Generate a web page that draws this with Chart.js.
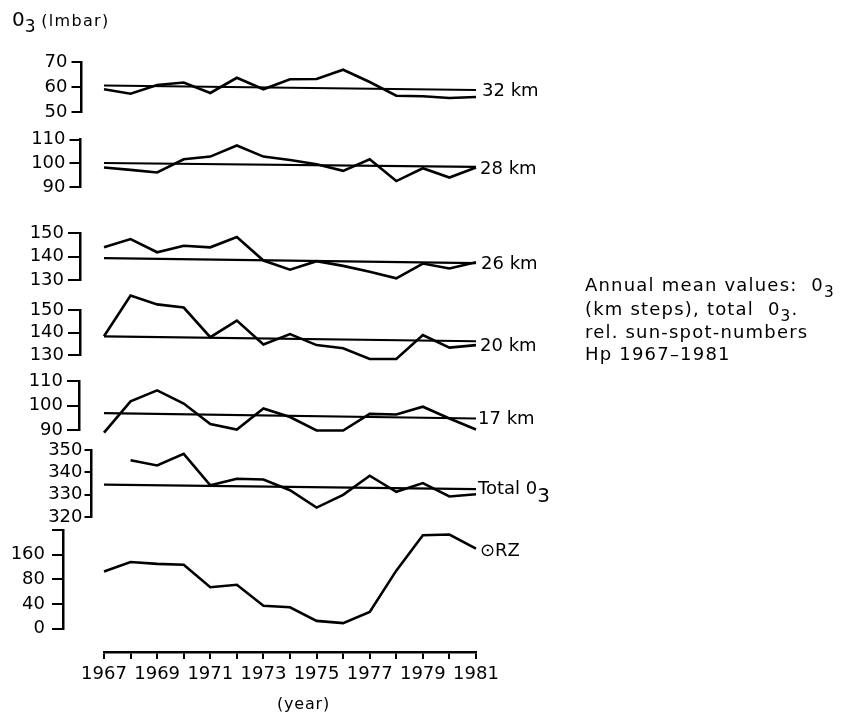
<!DOCTYPE html>
<html><head><meta charset="utf-8">
<script src="https://cdn.jsdelivr.net/npm/chart.js@4.4.1/dist/chart.umd.min.js"></script>
<style>
html,body{margin:0;padding:0;background:#fff;}
#wrap{position:relative;width:849px;height:718px;overflow:hidden;background:#fff;font-family:"DejaVu Sans",sans-serif;color:#000;}
#c{position:absolute;left:0;top:0;}
.lbl{position:absolute;font-size:18px;line-height:22px;white-space:nowrap;}
.sub{font-size:0.85em;position:relative;top:0.38em;}
#note{position:absolute;left:585px;top:274px;font-size:18px;line-height:21.7px;letter-spacing:1.2px;white-space:nowrap;}
</style></head>
<body><div id="wrap"><canvas id="c" width="849" height="718"></canvas>
<div class="lbl" style="left:12px;top:8px;font-size:18px;"><span style="font-size:20px">0</span><span class="sub" style="font-size:17px">3</span> <span style="font-size:16px;letter-spacing:1.3px">(lmbar)</span></div>
<div class="lbl" style="left:482px;top:79px;">32 km</div>
<div class="lbl" style="left:480px;top:157px;">28 km</div>
<div class="lbl" style="left:481px;top:252px;">26 km</div>
<div class="lbl" style="left:480px;top:334px;">20 km</div>
<div class="lbl" style="left:478px;top:407px;">17 km</div>
<div class="lbl" style="left:478px;top:476px;">Total 0<span class="sub" style="font-size:20px">3</span></div>
<div class="lbl" style="left:480px;top:539px;">⊙RZ</div>
<div class="lbl" style="left:277px;top:693px;font-size:16px;letter-spacing:0.8px;">(year)</div>
<div id="note">Annual mean values:&nbsp; 0<span class="sub">3</span><br>(km steps), total&nbsp; 0<span class="sub">3</span>.<br>rel. sun-spot-numbers<br>Hp 1967–1981</div>
</div>
<script>
// ---- data ----
const years = [1967,1968,1969,1970,1971,1972,1973,1974,1975,1976,1977,1978,1979,1980,1981];
const yearLabels = ['1967','','1969','','1971','','1973','','1975','','1977','','1979','','1981'];

const o3_32km = [59.1,57.3,60.8,61.8,57.6,63.7,59.1,63.1,63.2,66.9,62.0,56.5,56.3,55.6,56.0];
const mean_32km = [60.6,58.8];
const o3_28km = [98.2,97.2,96.1,101.7,102.8,107.5,102.8,101.4,99.6,96.8,101.7,92.5,97.9,94.0,98.2];
const mean_28km = [100.1,98.5];
const o3_26km = [143.9,147.4,141.8,144.6,143.9,148.3,138.3,134.4,138.0,136.0,133.5,130.7,137.0,134.9,137.6];
const mean_26km = [139.3,137.2];
const o3_20km = [138.3,156.4,152.5,151.1,137.9,145.3,134.7,139.3,134.4,133.0,128.2,128.2,138.9,133.3,134.4];
const mean_20km = [138.3,136.1];
const o3_17km = [88.9,101.7,106.2,100.8,92.4,90.2,98.8,95.3,89.8,89.8,96.6,96.3,99.5,94.7,90.2];
const mean_17km = [96.9,94.7];
const o3_total = [null,345.4,343.1,348.3,334.2,337.1,336.8,332.0,324.2,329.9,338.5,331.3,335.2,329.2,330.2];
const mean_total = [334.5,332.5];
const rz = [92.6,108,105,103.6,67,71,37,34.4,12.4,8.7,27,94,151.5,152.7,129.8];

const ticks_32km = [50,60,70];
const ticks_28km = [90,100,110];
const ticks_26km = [130,140,150];
const ticks_20km = [130,140,150];
const ticks_17km = [90,100,110];
const ticks_total = [320,330,340,350];
const ticks_rz = [0,40,80,120,160];
const tickLabels_rz = ['0','40','80','160',''];

// ---- layout of the panels (pixel placement of each y axis) ----
const panels = [
  {id:'y32', vals:o3_32km, mean:mean_32km, ticks:ticks_32km, labels:null, min:50, max:70, x:81.5, top:62, bottom:112, tl:10, pad:4},
  {id:'y28', vals:o3_28km, mean:mean_28km, ticks:ticks_28km, labels:null, min:90, max:110, x:80.5, top:139.5, bottom:187, tl:11, pad:4},
  {id:'y26', vals:o3_26km, mean:mean_26km, ticks:ticks_26km, labels:null, min:130, max:150, x:80, top:233, bottom:280, tl:12, pad:4},
  {id:'y20', vals:o3_20km, mean:mean_20km, ticks:ticks_20km, labels:null, min:130, max:150, x:80, top:310, bottom:355, tl:12, pad:4},
  {id:'y17', vals:o3_17km, mean:mean_17km, ticks:ticks_17km, labels:null, min:90, max:110, x:79, top:381, bottom:430, tl:12, pad:4},
  {id:'yTot', vals:o3_total, mean:mean_total, ticks:ticks_total, labels:null, min:320, max:350, x:91.5, top:450, bottom:517, tl:7, pad:2},
  {id:'yRZ', vals:rz, mean:null, ticks:ticks_rz, labels:tickLabels_rz, min:0, max:160, x:63, top:530, bottom:628.5, tl:11, pad:7}
];
const xBox = {left:104, right:476, top:652, bottom:718};

const series = v => years.map((x,i) => ({x, y: v[i]}));
const trend = v => [{x: years[0], y: v[0]}, {x: years[years.length-1], y: v[1]}];

const datasets = [];
panels.forEach(p => {
  datasets.push({data: series(p.vals), yAxisID: p.id, borderColor:'#000', borderWidth:2.6, pointRadius:0, tension:0, clip:false, spanGaps:false, borderJoinStyle:'miter'});
  if (p.mean) datasets.push({data: trend(p.mean), yAxisID: p.id, borderColor:'#000', borderWidth:2.2, pointRadius:0, tension:0, clip:false});
});

const tickFont = {family:'DejaVu Sans', size:18};
const scales = {
  x: {
    type:'linear', position:'bottom', min:1967, max:1981,
    afterBuildTicks: s => { s.ticks = years.map(v => ({value:v})); },
    afterFit: s => { s.height = xBox.bottom - xBox.top; },
    ticks: {autoSkip:false, maxRotation:0, minRotation:0, padding:5, color:'#000', font:{family:'DejaVu Sans', size:18}, callback:(v,i) => yearLabels[i]},
    grid: {drawOnChartArea:false, drawTicks:true, tickLength:7, color:'#000', lineWidth:2},
    border: {display:true, color:'#000', width:2.5}
  }
};
panels.forEach(p => {
  scales[p.id] = {
    type:'linear', position:'left', min:p.min, max:p.max,
    afterBuildTicks: s => { s.ticks = p.ticks.map(v => ({value:v})); },
    afterFit: s => { s.width = 0; },
    ticks: {autoSkip:false, padding:p.pad, color:'#000', font:tickFont, callback:(v,i) => p.labels ? p.labels[i] : String(p.ticks[i])},
    grid: {drawOnChartArea:false, drawTicks:true, tickLength:p.tl, color:'#000', lineWidth:2},
    border: {display:true, color:'#000', width:2.5}
  };
});

const placeAxes = {
  id:'placeAxes',
  afterLayout(chart) {
    const xs = chart.scales.x;
    xs.left = xBox.left; xs.right = xBox.right; xs.width = xBox.right - xBox.left;
    xs.top = xBox.top; xs.bottom = xBox.bottom; xs.height = xBox.bottom - xBox.top;
    xs.configure();
    panels.forEach(p => {
      const s = chart.scales[p.id];
      s.right = p.x; s.left = p.x - 60; s.width = 60;
      s.top = p.top; s.bottom = p.bottom; s.height = p.bottom - p.top;
      s.configure();
    });
  }
};

new Chart(document.getElementById('c'), {
  type:'line',
  data:{datasets},
  options:{
    responsive:false, maintainAspectRatio:false, animation:false,
    layout:{padding:{left:104, right:849-476, top:5, bottom:0}},
    plugins:{legend:{display:false}, tooltip:{enabled:false}, title:{display:false}},
    scales
  },
  plugins:[placeAxes]
});
</script>
</body></html>
